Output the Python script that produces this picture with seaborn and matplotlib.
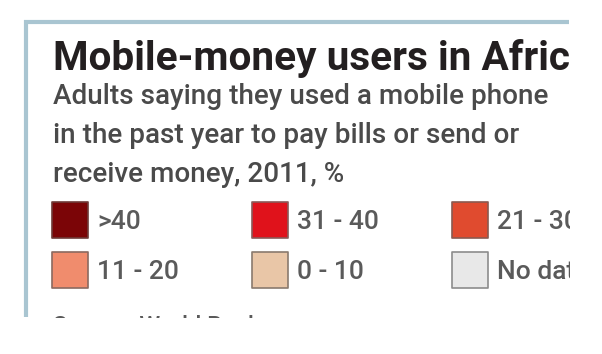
import matplotlib
matplotlib.use("Agg")
import matplotlib.pyplot as plt
import seaborn as sns
import pandas as pd
from matplotlib.patches import Rectangle
from matplotlib.lines import Line2D

# ---- data ----
title = "Mobile-money users in Afric"
subtitle = ["Adults saying they used a mobile phone",
            "in the past year to pay bills or send or",
            "receive money, 2011, %"]
categories = [">40", "31 - 40", "21 - 30", "11 - 20", "0 - 10", "No data"]
fill_colors = ["#7b0507", "#e0121b", "#e04b2f", "#f08c6d", "#e9c6a7", "#e8e8e8"]
edge_colors = ["#6e3b38", "#8a5a58", "#8a5a50", "#8a6a60", "#8a7a6e", "#8c8c8c"]
source = "Source: World Bank"

sns.set_theme(style="white")
plt.rcParams["font.family"] = ["Roboto", "DejaVu Sans"]

W, H = 602, 354
fig = plt.figure(figsize=(W / 100, H / 100), dpi=100)
ax = fig.add_axes([0, 0, 1, 1])

# legend swatches via seaborn
df = pd.DataFrame({
    "cat": categories,
    "col": [i % 3 for i in range(len(categories))],
    "row": [i // 3 for i in range(len(categories))],
})
df["x"] = 69.5 + 200 * df["col"]
df["y"] = 219.5 + 50 * df["row"]
sns.scatterplot(data=df, x="x", y="y", hue="cat", palette=dict(zip(categories, fill_colors)),
                marker="s", s=(36 * 0.72) ** 2, linewidth=1.2, legend=False, ax=ax)
ax.collections[-1].set_edgecolor(edge_colors)
ax.set_xlim(0, W)
ax.set_ylim(H, 0)
ax.axis("off")

# frame (light blue rule on top and left)
frame_col = "#a9c5d1"
ax.add_line(Line2D([24, 569], [22, 22], color=frame_col, lw=3.0, solid_capstyle="butt"))
ax.add_line(Line2D([26, 26], [20, 317], color=frame_col, lw=3.0, solid_capstyle="butt"))

fig.canvas.draw()
renderer = fig.canvas.get_renderer()

def fit_text(x, y, s, target_w, fs, **kw):
    t = ax.text(x, y, s, fontsize=fs, **kw)
    w = t.get_window_extent(renderer).width
    t.set_fontsize(fs * target_w / w)
    return t

# title and subtitle
fit_text(53, 70, title, 515, 30, fontweight="bold",
         color="#231f20", va="baseline", ha="left")
t0 = fit_text(53, 104, subtitle[0], 495, 18, fontweight="medium",
              color="#4a4a4a", va="baseline", ha="left")
sfs = t0.get_fontsize()
for i, line in enumerate(subtitle[1:], start=1):
    ax.text(53, 104 + 39 * i, line, fontsize=sfs, fontweight="medium",
            color="#4a4a4a", va="baseline", ha="left")

for _, r in df.iterrows():
    ax.text(r["x"] + 27.5, r["y"] + 2.5, r["cat"], fontsize=19, fontweight="medium",
            color="#5a5a5a", va="center", ha="left")

ax.text(53, 333, source, fontsize=17, fontweight="medium", color="#5a5a5a",
        va="baseline", ha="left")

# crop mask (the reference is cut off at right and bottom)
ax.add_patch(Rectangle((570, 0), W - 570, H, facecolor="white", edgecolor="none", zorder=20))
ax.add_patch(Rectangle((0, 317.5), W, H - 317.5, facecolor="white", edgecolor="none", zorder=20))

fig.savefig("out.png", dpi=100, facecolor="white")
